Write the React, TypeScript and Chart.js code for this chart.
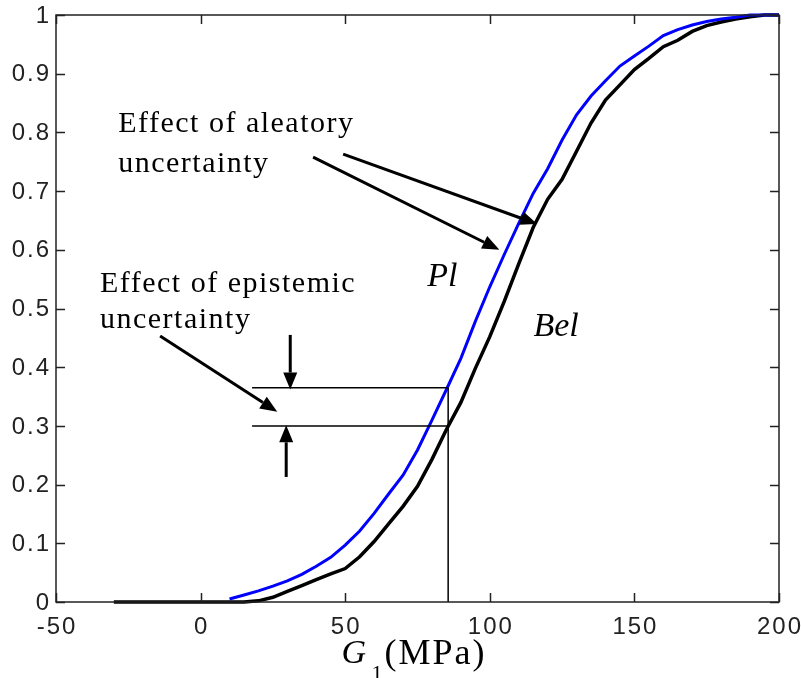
import React, { useEffect, useRef } from "react";
import { Chart, registerables } from "chart.js";

Chart.register(...registerables);

// G1 (MPa) sample points
const plX = [10, 15, 20, 25, 30, 35, 40, 45, 50, 55, 60, 65, 70, 75, 80, 85, 90, 95, 100, 105, 110, 115, 120, 125, 130, 135, 140, 145, 150, 155, 160, 165, 170, 175, 180, 185, 190, 195, 200];
const plY = [0.005, 0.012, 0.019, 0.027, 0.036, 0.047, 0.061, 0.076, 0.097, 0.121, 0.151, 0.184, 0.216, 0.259, 0.31, 0.362, 0.415, 0.478, 0.537, 0.592, 0.645, 0.696, 0.738, 0.787, 0.83, 0.862, 0.888, 0.913, 0.93, 0.947, 0.965, 0.975, 0.983, 0.989, 0.993, 0.996, 1.0, 1.0, 1.0];

const belX = [-30, -20, -10, 0, 10, 15, 20, 25, 30, 35, 40, 45, 50, 55, 60, 65, 70, 75, 80, 85, 90, 95, 100, 105, 110, 115, 120, 125, 130, 135, 140, 145, 150, 155, 160, 165, 170, 175, 180, 185, 190, 195, 200];
const belY = [0, 0, 0, 0, 0, 0, 0.002, 0.008, 0.018, 0.028, 0.038, 0.048, 0.057, 0.077, 0.103, 0.133, 0.163, 0.197, 0.243, 0.294, 0.34, 0.398, 0.452, 0.512, 0.576, 0.638, 0.686, 0.72, 0.768, 0.816, 0.855, 0.881, 0.907, 0.926, 0.946, 0.957, 0.972, 0.982, 0.988, 0.993, 0.997, 1.0, 1.0];

const xTicks = [-50, 0, 50, 100, 150, 200];
const yTicks = [0, 0.1, 0.2, 0.3, 0.4, 0.5, 0.6, 0.7, 0.8, 0.9, 1];
const xTickLabels = ["-50", "0", "50", "100", "150", "200"];
const yTickLabels = ["0", "0.1", "0.2", "0.3", "0.4", "0.5", "0.6", "0.7", "0.8", "0.9", "1"];

// reference level lines (data units)
const gRef = 85.6;
const plRef = 0.365;
const belRef = 0.3;
const refStartX = 17.8;

// annotation arrows [x0, y0, x1(tip), y1(tip)] in data units
const arrows = [
  [49.3, 0.763, 116.4, 0.644],
  [38.9, 0.758, 103.3, 0.6],
  [-14.0, 0.453, 26.5, 0.324],
  [31.0, 0.455, 31.0, 0.362],
  [29.6, 0.213, 29.6, 0.301],
];

// annotation texts [text, x, y(baseline), italic]
const notes: [string, number, number, boolean][] = [
  ["Effect of aleatory", -28.5, 0.8, false],
  ["uncertainty", -28.5, 0.733, false],
  ["Effect of epistemic", -34.8, 0.528, false],
  ["uncertainty", -34.8, 0.467, false],
  ["Pl", 78.4, 0.538, true],
  ["Bel", 115.1, 0.453, true],
];

const toPts = (xs: number[], ys: number[]) => xs.map((x, i) => ({ x, y: ys[i] }));

const decor = {
  id: "decor",
  afterDraw(chart: any) {
    const { ctx, chartArea: a, scales } = chart;
    const xs = scales.x;
    const ys = scales.y;
    ctx.save();
    // frame
    ctx.strokeStyle = "#222";
    ctx.lineWidth = 1.5;
    ctx.strokeRect(a.left, a.top, a.right - a.left, a.bottom - a.top);
    const tl = 9;
    ctx.beginPath();
    xTicks.forEach((t) => {
      const px = Math.round(xs.getPixelForValue(t)) + 0.5;
      ctx.moveTo(px, a.bottom);
      ctx.lineTo(px, a.bottom - tl);
      ctx.moveTo(px, a.top);
      ctx.lineTo(px, a.top + tl);
    });
    yTicks.forEach((t) => {
      const py = Math.round(ys.getPixelForValue(t)) + 0.5;
      ctx.moveTo(a.left, py);
      ctx.lineTo(a.left + tl, py);
      ctx.moveTo(a.right, py);
      ctx.lineTo(a.right - tl, py);
    });
    ctx.stroke();

    // tick labels
    ctx.fillStyle = "#222";
    ctx.font = "24px 'Liberation Sans'";
    (ctx as any).letterSpacing = "2px";
    ctx.textBaseline = "middle";
    ctx.textAlign = "right";
    yTicks.forEach((t, i) => {
      ctx.fillText(yTickLabels[i], a.left - 5, ys.getPixelForValue(t) + 1);
    });
    ctx.textAlign = "center";
    xTicks.forEach((t, i) => {
      ctx.fillText(xTickLabels[i], xs.getPixelForValue(t) + 1, a.bottom + 25);
    });

    // arrows
    ctx.strokeStyle = "#000";
    ctx.fillStyle = "#000";
    arrows.forEach(([x0, y0, x1, y1]) => {
      const p0x = xs.getPixelForValue(x0);
      const p0y = ys.getPixelForValue(y0);
      const p1x = xs.getPixelForValue(x1);
      const p1y = ys.getPixelForValue(y1);
      const ang = Math.atan2(p1y - p0y, p1x - p0x);
      const hl = 17;
      const hw = 7;
      const bx = p1x - hl * Math.cos(ang);
      const by = p1y - hl * Math.sin(ang);
      ctx.lineWidth = 3;
      ctx.beginPath();
      ctx.moveTo(p0x, p0y);
      ctx.lineTo(bx, by);
      ctx.stroke();
      ctx.beginPath();
      ctx.moveTo(p1x, p1y);
      ctx.lineTo(bx + hw * Math.sin(ang), by - hw * Math.cos(ang));
      ctx.lineTo(bx - hw * Math.sin(ang), by + hw * Math.cos(ang));
      ctx.closePath();
      ctx.fill();
    });

    // texts
    ctx.textBaseline = "alphabetic";
    ctx.textAlign = "left";
    notes.forEach(([t, x, y, it]) => {
      ctx.font = it ? "italic 34px 'Liberation Serif'" : "30px 'Liberation Serif'";
      (ctx as any).letterSpacing = it ? "0px" : "1.5px";
      ctx.fillText(t, xs.getPixelForValue(x), ys.getPixelForValue(y));
    });

    // axis title
    const cx = (a.left + a.right) / 2;
    (ctx as any).letterSpacing = "0px";
    ctx.font = "italic 34px 'Liberation Serif'";
    const gx = cx - 76;
    ctx.fillText("G", gx, 663);
    ctx.font = "22px 'Liberation Serif'";
    ctx.fillText("1", gx + 30, 680);
    ctx.font = "36px 'Liberation Serif'";
    (ctx as any).letterSpacing = "2px";
    ctx.fillText("(MPa)", gx + 43, 664);
    ctx.restore();
  },
};

export default function App() {
  const ref = useRef<HTMLCanvasElement>(null);
  useEffect(() => {
    if (!ref.current) return;
    const refLine = (pts: { x: number; y: number }[]) => ({
      data: pts,
      borderColor: "#000",
      borderWidth: 1.5,
      pointRadius: 0,
      showLine: true,
      fill: false,
    });
    const chart = new Chart(ref.current, {
      type: "scatter",
      data: {
        datasets: [
          refLine([{ x: refStartX, y: plRef }, { x: gRef, y: plRef }]),
          refLine([{ x: refStartX, y: belRef }, { x: gRef, y: belRef }]),
          refLine([{ x: gRef, y: plRef }, { x: gRef, y: 0 }]),
          {
            label: "Pl",
            data: toPts(plX, plY),
            borderColor: "#0000ff",
            borderWidth: 3,
            pointRadius: 0,
            showLine: true,
            tension: 0,
            clip: 4,
          },
          {
            label: "Bel",
            data: toPts(belX, belY),
            borderColor: "#000",
            borderWidth: 3.5,
            pointRadius: 0,
            showLine: true,
            tension: 0,
            clip: 4,
          },
        ],
      },
      options: {
        animation: false,
        responsive: false,
        layout: { padding: { top: 15, right: 22, left: 0, bottom: 0 } },
        plugins: { legend: { display: false }, tooltip: { enabled: false } },
        scales: {
          x: {
            type: "linear",
            min: -50,
            max: 200,
            afterBuildTicks: (s: any) => {
              s.ticks = xTicks.map((v) => ({ value: v }));
            },
            afterFit: (s: any) => {
              s.height = 76;
            },
            grid: { display: false },
            border: { display: false },
            ticks: { display: false },
          },
          y: {
            type: "linear",
            min: 0,
            max: 1,
            afterBuildTicks: (s: any) => {
              s.ticks = yTicks.map((v) => ({ value: v }));
            },
            afterFit: (s: any) => {
              s.width = 56;
            },
            grid: { display: false },
            border: { display: false },
            ticks: { display: false },
          },
        },
      },
      plugins: [decor],
    });
    return () => chart.destroy();
  }, []);
  return (
    <div style={{ position: "fixed", left: 0, top: 0, width: 801, height: 678, background: "#fff" }}>
      <canvas ref={ref} width={801} height={678} style={{ display: "block" }} />
    </div>
  );
}
